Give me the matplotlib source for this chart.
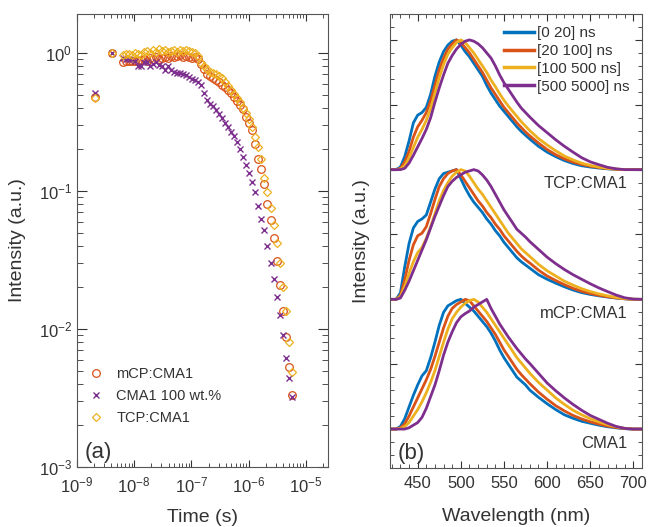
import numpy as np
import matplotlib
matplotlib.use('Agg')
import matplotlib.pyplot as plt
from matplotlib.ticker import LogLocator, MultipleLocator, NullFormatter

plt.rcParams['font.family'] = ['Liberation Sans', 'DejaVu Sans']
plt.rcParams['mathtext.default'] = 'regular'

TXT = '#333333'
C_BLUE, C_RED, C_YEL, C_PUR = '#0072BD', '#D95319', '#EDB120', '#7E2F8E'

# ---- (a) transient decays ----
t_s = [2.06e-9, 4.04e-9,
       6.30e-9, 7.11e-9, 8.03e-9, 9.06e-9, 1.023e-8, 1.156e-8, 1.305e-8, 1.473e-8,
       1.664e-8, 1.879e-8, 2.122e-8, 2.395e-8, 2.705e-8, 3.055e-8, 3.449e-8, 3.894e-8,
       4.397e-8, 4.966e-8, 5.607e-8, 6.33e-8, 7.15e-8, 8.07e-8, 9.12e-8, 1.029e-7,
       1.162e-7, 1.312e-7, 1.482e-7, 1.673e-7, 1.889e-7, 2.133e-7, 2.409e-7, 2.720e-7,
       3.071e-7, 3.468e-7, 3.916e-7, 4.422e-7, 4.993e-7, 5.638e-7, 6.37e-7, 7.19e-7,
       8.11e-7, 9.16e-7, 1.035e-6, 1.168e-6, 1.319e-6, 1.489e-6, 1.682e-6, 1.899e-6,
       2.144e-6, 2.421e-6, 2.734e-6, 3.087e-6, 3.486e-6, 3.936e-6, 4.444e-6, 5.02e-6,
       5.66e-6]

mcp_decay = [0.48, 1.0,
             0.865, 0.87, 0.875, 0.88, 0.88, 0.87, 0.89, 0.90, 0.88, 0.92, 0.90, 0.93,
             0.90, 0.92, 0.94, 0.92, 0.95, 0.93, 0.95, 0.96, 0.93, 0.95, 0.94, 0.92,
             0.93, 0.90, 0.83, 0.76, 0.71, 0.68, 0.655, 0.64, 0.62, 0.59, 0.565, 0.54,
             0.51, 0.48, 0.45, 0.42, 0.39, 0.345, 0.31, 0.275, 0.22, 0.17, 0.145, 0.112,
             0.08, 0.062, 0.046, 0.031, 0.021, 0.0135, 0.0088, 0.0053, 0.0033]

neat_decay = [0.516, 1.0,
              0.915, 0.90, 0.90, 0.90, 0.87, 0.80, 0.80, 0.856, 0.865, 0.80, 0.84, 0.86,
              0.82, 0.80, 0.75, 0.80, 0.75, 0.73, 0.72, 0.72, 0.70, 0.69, 0.67, 0.65,
              0.64, 0.62, 0.59, 0.51, 0.456, 0.43, 0.41, 0.386, 0.36, 0.34, 0.31, 0.292,
              0.27, 0.25, 0.228, 0.20, 0.177, 0.155, 0.134, 0.117, 0.098, 0.078, 0.063,
              0.052, 0.040, 0.030, 0.023, 0.017, 0.0127, 0.0090, 0.0062, 0.0044, 0.0032]

tcp_decay = [0.47, 1.0,
             0.967, 0.98, 0.99, 0.97, 1.0, 0.98, 0.96, 1.02, 1.04, 1.0, 1.06, 1.02,
             1.07, 1.03, 1.05, 1.01, 1.04, 1.06, 1.02, 1.05, 1.03, 1.06, 1.03, 1.02,
             1.0, 0.95, 0.85, 0.81, 0.77, 0.73, 0.72, 0.70, 0.68, 0.66, 0.62, 0.58,
             0.54, 0.505, 0.47, 0.44, 0.40, 0.37, 0.335, 0.29, 0.245, 0.21, 0.172, 0.125,
             0.098, 0.075, 0.057, 0.042, 0.030, 0.020, 0.0135, 0.0080, 0.0049]

decay_labels = ['mCP:CMA1', 'CMA1 100 wt.%', 'TCP:CMA1']

# ---- (b) time-resolved spectra ----
wl = [420, 425, 430, 435, 440, 445, 450, 455, 460, 465, 470, 475, 480, 485, 490, 495,
      500, 505, 510, 515, 520, 525, 530, 535, 540, 545, 550, 555, 560, 565, 570, 575,
      580, 590, 600, 610, 620, 630, 640, 650, 660, 670, 680, 690, 700, 710]

tcp_0_20 = [0, 0, 0.02, 0.10, 0.22, 0.36, 0.42, 0.44, 0.48, 0.58, 0.72, 0.83, 0.91, 0.96,
            0.99, 1.0, 0.96, 0.91, 0.87, 0.82, 0.77, 0.72, 0.65, 0.59, 0.54, 0.49, 0.45,
            0.41, 0.37, 0.33, 0.295, 0.265, 0.235, 0.18, 0.135, 0.10, 0.07, 0.047, 0.03,
            0.02, 0.012, 0.006, 0.002, 0, 0, 0]
tcp_20_100 = [0, 0, 0.01, 0.06, 0.14, 0.25, 0.33, 0.38, 0.44, 0.53, 0.65, 0.77, 0.86,
              0.93, 0.97, 1.0, 0.98, 0.94, 0.90, 0.85, 0.80, 0.75, 0.69, 0.63, 0.58,
              0.53, 0.48, 0.44, 0.40, 0.36, 0.325, 0.29, 0.26, 0.205, 0.155, 0.115,
              0.083, 0.058, 0.04, 0.026, 0.016, 0.008, 0.003, 0, 0, 0]
tcp_100_500 = [0, 0, 0.005, 0.03, 0.09, 0.17, 0.25, 0.31, 0.38, 0.47, 0.59, 0.71, 0.81,
               0.89, 0.94, 0.98, 1.0, 0.98, 0.94, 0.90, 0.85, 0.80, 0.75, 0.69, 0.64,
               0.585, 0.535, 0.49, 0.45, 0.41, 0.37, 0.335, 0.30, 0.24, 0.19, 0.145,
               0.105, 0.075, 0.05, 0.033, 0.02, 0.01, 0.004, 0, 0, 0]
tcp_500_5000 = [0, 0, 0, 0.01, 0.05, 0.11, 0.175, 0.24, 0.31, 0.40, 0.52, 0.63, 0.73,
                0.82, 0.88, 0.93, 0.965, 0.99, 1.0, 0.99, 0.97, 0.94, 0.90, 0.86, 0.80,
                0.73, 0.67, 0.62, 0.57, 0.52, 0.475, 0.44, 0.405, 0.34, 0.285, 0.23,
                0.18, 0.135, 0.092, 0.06, 0.038, 0.018, 0.006, 0, 0, 0]

mcp_0_20 = [0, 0, 0.05, 0.25, 0.43, 0.55, 0.60, 0.62, 0.65, 0.75, 0.85, 0.93, 0.97, 0.98,
            0.99, 1.0, 0.93, 0.86, 0.80, 0.75, 0.71, 0.67, 0.62, 0.58, 0.53, 0.49, 0.44,
            0.40, 0.36, 0.32, 0.29, 0.265, 0.24, 0.19, 0.155, 0.125, 0.097, 0.072,
            0.052, 0.038, 0.027, 0.018, 0.01, 0.004, 0, 0]
mcp_20_100 = [0, 0, 0.03, 0.15, 0.30, 0.42, 0.49, 0.51, 0.56, 0.66, 0.77, 0.87, 0.93,
              0.97, 0.99, 1.0, 0.96, 0.91, 0.86, 0.81, 0.76, 0.72, 0.67, 0.63, 0.58,
              0.54, 0.49, 0.45, 0.41, 0.37, 0.335, 0.305, 0.28, 0.225, 0.18, 0.145,
              0.113, 0.085, 0.062, 0.045, 0.031, 0.02, 0.011, 0.004, 0, 0]
mcp_100_500 = [0, 0, 0.02, 0.10, 0.20, 0.29, 0.36, 0.40, 0.47, 0.56, 0.66, 0.76, 0.84,
               0.90, 0.95, 0.98, 1.0, 0.99, 0.95, 0.90, 0.85, 0.81, 0.76, 0.71, 0.66,
               0.61, 0.56, 0.51, 0.47, 0.43, 0.39, 0.36, 0.33, 0.27, 0.22, 0.18, 0.14,
               0.11, 0.082, 0.06, 0.042, 0.027, 0.015, 0.006, 0.001, 0]
mcp_500_5000 = [0, 0, 0.01, 0.07, 0.14, 0.22, 0.30, 0.38, 0.46, 0.55, 0.64, 0.72, 0.80,
                0.87, 0.91, 0.94, 0.96, 0.98, 0.99, 1.0, 0.99, 0.96, 0.92, 0.87, 0.81,
                0.75, 0.69, 0.64, 0.59, 0.54, 0.51, 0.48, 0.445, 0.385, 0.325, 0.275,
                0.23, 0.19, 0.155, 0.12, 0.088, 0.06, 0.033, 0.012, 0.002, 0]

neat_0_20 = [0, 0, 0.02, 0.08, 0.17, 0.26, 0.34, 0.41, 0.45, 0.55, 0.67, 0.80, 0.90,
             0.95, 0.97, 0.99, 1.0, 0.97, 0.94, 0.91, 0.87, 0.83, 0.79, 0.74, 0.68,
             0.61, 0.55, 0.50, 0.45, 0.40, 0.37, 0.34, 0.30, 0.245, 0.195, 0.15, 0.11,
             0.083, 0.06, 0.045, 0.03, 0.018, 0.009, 0.003, 0, 0]
neat_20_100 = [0, 0, 0.01, 0.04, 0.10, 0.17, 0.24, 0.31, 0.38, 0.46, 0.56, 0.67, 0.78,
               0.87, 0.93, 0.96, 0.98, 1.0, 0.99, 0.95, 0.91, 0.87, 0.83, 0.78, 0.73,
               0.67, 0.61, 0.56, 0.51, 0.46, 0.42, 0.385, 0.35, 0.285, 0.23, 0.18, 0.14,
               0.105, 0.078, 0.056, 0.038, 0.023, 0.012, 0.004, 0, 0]
neat_100_500 = [0, 0, 0.005, 0.02, 0.05, 0.10, 0.15, 0.21, 0.28, 0.36, 0.45, 0.56, 0.67,
                0.77, 0.85, 0.90, 0.94, 0.97, 0.99, 1.0, 0.98, 0.94, 0.90, 0.85, 0.80,
                0.75, 0.70, 0.65, 0.60, 0.55, 0.51, 0.47, 0.43, 0.36, 0.30, 0.24, 0.19,
                0.145, 0.11, 0.08, 0.055, 0.034, 0.017, 0.006, 0, 0]
neat_500_5000 = [0, 0, 0, 0, 0.01, 0.03, 0.05, 0.09, 0.16, 0.25, 0.34, 0.45, 0.57, 0.67,
                 0.75, 0.82, 0.865, 0.89, 0.91, 0.94, 0.96, 0.98, 1.0, 0.93, 0.87, 0.81,
                 0.76, 0.71, 0.665, 0.62, 0.58, 0.54, 0.505, 0.43, 0.355, 0.295, 0.24,
                 0.19, 0.145, 0.105, 0.075, 0.045, 0.02, 0.005, 0, 0]

window_labels = ['[0 20] ns', '[20 100] ns', '[100 500 ns]', '[500 5000] ns']
sample_names = ['TCP:CMA1', 'mCP:CMA1', 'CMA1']
offsets = [2, 1, 0]

fig = plt.figure(figsize=(6.49, 5.27), dpi=100)
ax1 = fig.add_axes([0.1186, 0.1139, 0.3868, 0.8596])
ax2 = fig.add_axes([0.601, 0.112, 0.3883, 0.8615])

# panel a
ax1.plot(t_s, mcp_decay, 'o', ms=5.5, mfc='none', mec=C_RED, mew=0.9, label=decay_labels[0])
ax1.plot(t_s, neat_decay, 'x', ms=5, mec=C_PUR, mew=1.0, label=decay_labels[1])
ax1.plot(t_s, tcp_decay, 'D', ms=4.5, mfc='none', mec=C_YEL, mew=0.9, label=decay_labels[2])
ax1.set_xscale('log')
ax1.set_yscale('log')
ax1.set_xlim(1e-9, 2.45e-5)
ax1.set_ylim(1e-3, 1.92)
ax1.xaxis.set_major_locator(LogLocator(base=10, numticks=10))
ax1.xaxis.set_minor_locator(LogLocator(base=10, subs=np.arange(2, 10), numticks=20))
ax1.xaxis.set_minor_formatter(NullFormatter())
ax1.yaxis.set_major_locator(LogLocator(base=10, numticks=10))
ax1.yaxis.set_minor_locator(LogLocator(base=10, subs=np.arange(2, 10), numticks=20))
ax1.yaxis.set_minor_formatter(NullFormatter())
ax1.set_xlabel('Time (s)', fontsize=14, color=TXT)
ax1.set_ylabel('Intensity (a.u.)', fontsize=14, color=TXT)
ax1.xaxis.set_label_coords(0.5, -0.092)
ax1.yaxis.set_label_coords(-0.205, 0.5)
ax1.tick_params(which='both', direction='in', top=True, right=True, colors=TXT, labelsize=12)
ax1.tick_params(axis='y', which='major', length=7)
ax1.tick_params(axis='y', which='minor', length=4)
ax1.tick_params(axis='x', which='major', length=5, pad=6)
ax1.tick_params(axis='x', which='minor', length=3)
leg1 = ax1.legend(loc='lower left', bbox_to_anchor=(0.0, 0.07), frameon=False, fontsize=10.5,
                  handlelength=1.2, handletextpad=0.8, labelspacing=0.55, borderaxespad=0.3)
for tx in leg1.get_texts():
    tx.set_color(TXT)
ax1.text(0.03, 0.02, '(a)', transform=ax1.transAxes, fontsize=16, color=TXT)

# panel b
groups = [
    [tcp_0_20, tcp_20_100, tcp_100_500, tcp_500_5000],
    [mcp_0_20, mcp_20_100, mcp_100_500, mcp_500_5000],
    [neat_0_20, neat_20_100, neat_100_500, neat_500_5000],
]
colors = [C_BLUE, C_RED, C_YEL, C_PUR]
for gi, spectra in enumerate(groups):
    for si, spec in enumerate(spectra):
        ax2.plot(wl, np.array(spec) + offsets[gi], color=colors[si], lw=2.0,
                 label=window_labels[si] if gi == 0 else None)
    ax2.text(693, offsets[gi] - 0.11, sample_names[gi], ha='right', va='center',
             fontsize=12, color=TXT)
ax2.set_xlim(418, 710)
ax2.set_ylim(-0.3, 3.2)
ax2.xaxis.set_major_locator(MultipleLocator(50))
ax2.xaxis.set_minor_locator(MultipleLocator(10))
ax2.yaxis.set_major_locator(MultipleLocator(0.5))
ax2.yaxis.set_minor_locator(MultipleLocator(0.1))
ax2.set_yticklabels([])
ax2.set_xlabel('Wavelength (nm)', fontsize=14, color=TXT)
ax2.set_ylabel('Intensity (a.u.)', fontsize=14, color=TXT)
ax2.xaxis.set_label_coords(0.5, -0.088)
ax2.yaxis.set_label_coords(-0.08, 0.5)
ax2.tick_params(which='both', direction='in', top=True, right=True, colors=TXT, labelsize=12)
ax2.tick_params(which='major', length=5, pad=6)
ax2.tick_params(which='minor', length=3)
leg2 = ax2.legend(loc='upper right', bbox_to_anchor=(1.0, 1.0), frameon=False, fontsize=11,
                  handlelength=2.0, handletextpad=0.2, labelspacing=0.25, borderaxespad=0.4)
for ln in leg2.get_lines():
    ln.set_linewidth(2.5)
for tx in leg2.get_texts():
    tx.set_color(TXT)
ax2.text(0.03, 0.02, '(b)', transform=ax2.transAxes, fontsize=16, color=TXT)

for ax in (ax1, ax2):
    for sp in ax.spines.values():
        sp.set_color('#555555')
        sp.set_linewidth(0.8)

fig.savefig('out.png', dpi=100)
